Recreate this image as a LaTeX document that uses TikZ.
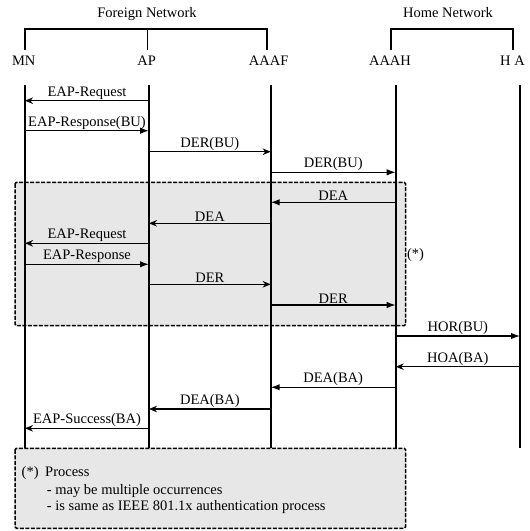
\documentclass[tikz,border=0pt]{standalone}
\usepackage{fontspec}
\setmainfont{Liberation Serif}
\usetikzlibrary{arrows.meta}
\definecolor{boxgray}{RGB}{231,231,231}
\begin{document}
\begin{tikzpicture}[x=1pt,y=-1pt,
  every node/.style={font=\fontsize{14.5}{16}\selectfont, inner sep=0pt},
  life/.style={line width=1.6pt},
  msg/.style={line width=1.3pt},
  big/.style={msg,-{Latex[length=9pt,width=6.5pt]}},
  small/.style={msg,-{Stealth[length=8pt,width=6.5pt,inset=2.5pt]}},
  lbl/.style={midway,anchor=south,yshift=0.8pt},
  dbox/.style={line width=1.5pt,dash pattern=on 4pt off 1.5pt,rounded corners=1.5pt},
  brk/.style={line width=1.6pt}]
\useasboundingbox (0,0) rectangle (530,531);
% gray process boxes
\fill[boxgray] (15,182.3) rectangle (405.7,325.7);
\fill[boxgray] (15,448.3) rectangle (405.7,528.3);
% headers
\node[anchor=base] (fn) at (147,17.3) {Foreign Network};
\node[anchor=base] (hn) at (448,17.3) {Home Network};
\draw[brk] (25,50) -- (25,29) -- (267,29) -- (267,50);
\draw[brk] (147.5,29) -- (147.5,50);
\draw[brk] (390.7,50) -- (390.7,29) -- (512.7,29) -- (512.7,50);
\node[anchor=base] (nMN) at (23.7,65.5) {MN};
\node[anchor=base] (nAP) at (146.7,65.5) {AP};
\node[anchor=base] (nAAAF) at (268.7,65.5) {AAAF};
\node[anchor=base] (nAAAH) at (390,65.5) {AAAH};
\node[anchor=base] (nHA) at (512.5,65.5) {H A};
% lifelines
\coordinate (MN) at (25,85);
\coordinate (AP) at (149,85);
\coordinate (AF) at (270.7,85);
\coordinate (AH) at (395.7,85);
\coordinate (HA) at (520,85);
\coordinate (MNe) at (25,448.3);
\coordinate (APe) at (149,448.3);
\coordinate (AFe) at (270.7,448.3);
\coordinate (AHe) at (395.7,448.3);
\coordinate (HAe) at (520,448.3);
\foreach \a in {MN,AP,AF,AH,HA} \draw[life] (\a) -- (\a e);
% messages
\draw[small] (AP |- 0,100.7) -- (MN |- 0,100.7) node[lbl] {EAP-Request};
\draw[big] (MN |- 0,130.7) -- (AP |- 0,130.7) node[lbl] {EAP-Response(BU)};
\draw[small] (AP |- 0,151.7) -- (AF |- 0,151.7) node[lbl] {DER(BU)};
\draw[big] (AF |- 0,172.3) -- (AH |- 0,172.3) node[lbl] {DER(BU)};
\draw[big] (AH |- 0,202.3) -- (AF |- 0,202.3) node[lbl] {DEA};
\draw[small] (AF |- 0,223.3) -- (AP |- 0,223.3) node[lbl] {DEA};
\draw[small] (AP |- 0,243.3) -- (MN |- 0,243.3) node[lbl] {EAP-Request};
\draw[big] (MN |- 0,264.3) -- (AP |- 0,264.3) node[lbl] {EAP-Response};
\draw[small] (AP |- 0,284.3) -- (AF |- 0,284.3) node[lbl] {DER};
\draw[big] (AF |- 0,305) -- (AH |- 0,305) node[lbl] {DER};
\draw[big] (AH |- 0,336) -- (HA |- 0,336) node[lbl] {HOR(BU)};
\draw[small] (HA |- 0,366.7) -- (AH |- 0,366.7) node[lbl] {HOA(BA)};
\draw[big] (AH |- 0,387.3) -- (AF |- 0,387.3) node[lbl] {DEA(BA)};
\draw[small] (AF |- 0,409) -- (AP |- 0,409) node[lbl] {DEA(BA)};
\draw[small] (AP |- 0,428.3) -- (MN |- 0,428.3) node[lbl] {EAP-Success(BA)};
% dashed borders
\draw[dbox] (15,182.3) rectangle (405.7,325.7);
\draw[dbox] (15,448.3) rectangle (405.7,528.3);
\node (star) at (415.5,255) {(*)};
% note text
\node[anchor=base west] (n1) at (21.5,476.5) {(*)};
\node[anchor=base west] (n2) at (45,476.5) {Process};
\node[anchor=base west] (n3) at (46.7,494.3) {- may be multiple occurrences};
\node[anchor=base west] (n4) at (46.7,510.7) {- is same as IEEE 801.1x authentication process};
\end{tikzpicture}
\end{document}
